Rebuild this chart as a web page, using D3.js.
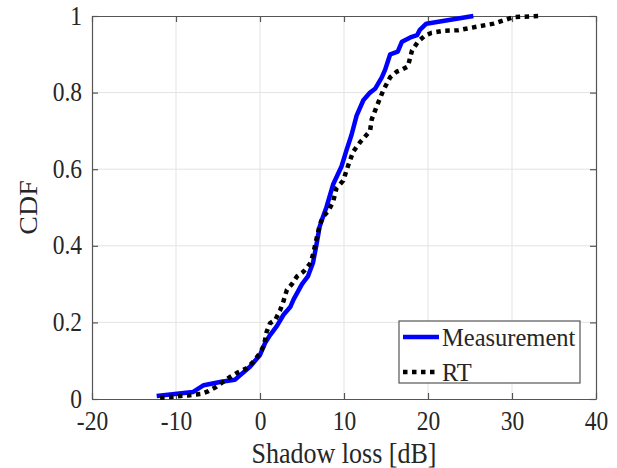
<!DOCTYPE html>
<html>
<head>
<meta charset="utf-8">
<script src="https://cdn.jsdelivr.net/npm/d3@7"></script>
<style>
  body { margin: 0; background: #fff; }
  svg { display: block; font-family: "Liberation Serif", "Times New Roman", serif; }
</style>
</head>
<body>
<svg width="617" height="468"></svg>
<script>
// measurement CDF
const measX = [-12.3, -8.0, -6.7, -4.6, -3.0, -1.2, 0, 0.6, 1.2, 2.0, 2.8, 3.6, 4.0, 5.0, 5.7, 6.3, 6.7, 7.1, 7.5, 7.9, 8.7, 9.7, 10.3, 10.9, 11.5, 12.3, 13.1, 13.7, 14.5, 14.9, 15.5, 16.4, 16.9, 17.9, 18.7, 19.0, 19.8, 25.4];
const measY = [0.008, 0.018, 0.036, 0.045, 0.05, 0.084, 0.115, 0.146, 0.167, 0.19, 0.22, 0.24, 0.26, 0.30, 0.32, 0.355, 0.40, 0.45, 0.476, 0.50, 0.56, 0.607, 0.65, 0.69, 0.74, 0.78, 0.80, 0.81, 0.84, 0.86, 0.90, 0.907, 0.933, 0.944, 0.95, 0.963, 0.98, 1.0];
// ray tracing CDF
const rtX = [-11.9, -8.3, -7.1, -6.2, -5.2, -3.6, -2.6, -1.6, -0.8, 0, 0.4, 0.6, 0.8, 1.2, 1.8, 2.4, 2.8, 3.2, 3.8, 4.4, 5.2, 6.0, 6.3, 6.7, 7.1, 7.5, 8.1, 8.7, 9.1, 9.9, 10.5, 11.1, 11.9, 13.1, 13.3, 14.0, 14.7, 15.5, 16.3, 16.9, 17.6, 18.1, 18.8, 19.6, 20.4, 21.8, 23.6, 25.8, 27.8, 29.2, 30.2, 33.2];
const rtY = [0.003, 0.01, 0.013, 0.02, 0.032, 0.057, 0.07, 0.08, 0.097, 0.12, 0.137, 0.154, 0.176, 0.198, 0.206, 0.232, 0.256, 0.285, 0.30, 0.32, 0.333, 0.355, 0.376, 0.415, 0.454, 0.476, 0.49, 0.515, 0.55, 0.57, 0.61, 0.646, 0.67, 0.70, 0.73, 0.77, 0.807, 0.84, 0.855, 0.86, 0.868, 0.91, 0.933, 0.948, 0.956, 0.961, 0.963, 0.972, 0.98, 0.99, 0.997, 1.0];

const xTicks = [-20, -10, 0, 10, 20, 30, 40];
const yTicks = [0, 0.2, 0.4, 0.6, 0.8, 1];
const legendNames = ["Measurement", "RT"];

const pl = 92, pr = 596, pt = 16, pb = 399;
const axisCol = "#555", textCol = "#262626", gridCol = "#e3e3e3";
const serif = '"Liberation Serif", "Times New Roman", serif';

const svg = d3.select("svg");
const x = d3.scaleLinear().domain([-20, 40]).range([pl, pr]);
const y = d3.scaleLinear().domain([0, 1]).range([pb, pt]);

// grid
svg.append("g").selectAll("line").data(xTicks.slice(1, -1)).join("line")
  .attr("x1", d => x(d)).attr("x2", d => x(d)).attr("y1", pt).attr("y2", pb)
  .attr("stroke", gridCol).attr("stroke-width", 1);
svg.append("g").selectAll("line").data(yTicks.slice(1, -1)).join("line")
  .attr("y1", d => y(d)).attr("y2", d => y(d)).attr("x1", pl).attr("x2", pr)
  .attr("stroke", gridCol).attr("stroke-width", 1);

function styleAxis(g) {
  g.attr("font-family", serif);
  g.selectAll(".domain").attr("stroke", axisCol).attr("stroke-width", 1.2);
  g.selectAll(".tick line").attr("stroke", axisCol).attr("stroke-width", 1.2);
  g.selectAll("text").attr("fill", textCol).attr("font-size", 23.5);
}

// axes, ticks inward
const gx = svg.append("g").attr("transform", `translate(0,${pb})`)
  .call(d3.axisBottom(x).tickValues(xTicks).tickSizeInner(-6).tickSizeOuter(0).tickFormat(d => String(d)));
styleAxis(gx);
gx.selectAll("text").attr("y", 0).attr("dy", 0).attr("transform", "translate(0,31) scale(1,1.12)");

const gy = svg.append("g").attr("transform", `translate(${pl},0)`)
  .call(d3.axisLeft(y).tickValues(yTicks).tickSizeInner(-6).tickSizeOuter(0).tickFormat(d => d === 0 || d === 1 ? d : d3.format(".1f")(d)));
styleAxis(gy);
gy.selectAll("text").attr("x", 0).attr("dy", 0).attr("transform", "translate(-10,8) scale(1,1.12)");

const gt = svg.append("g").attr("transform", `translate(0,${pt})`)
  .call(d3.axisTop(x).tickValues(xTicks).tickSizeInner(-6).tickSizeOuter(0).tickFormat(""));
styleAxis(gt);
const gr = svg.append("g").attr("transform", `translate(${pr},0)`)
  .call(d3.axisRight(y).tickValues(yTicks).tickSizeInner(-6).tickSizeOuter(0).tickFormat(""));
styleAxis(gr);

// axis labels
svg.append("text").attr("transform", `translate(${(pl + pr) / 2},463) scale(1,1.13)`)
  .attr("text-anchor", "middle").attr("font-size", 26).attr("fill", textCol)
  .text("Shadow loss [dB]");
svg.append("text").attr("transform", `translate(37,${(pt + pb) / 2}) rotate(-90) scale(1.12,1)`)
  .attr("text-anchor", "middle").attr("font-size", 25).attr("fill", textCol)
  .text("CDF");

// curves
const line = d3.line().x(d => x(d[0])).y(d => y(d[1]));
const measPts = measX.map((v, i) => [v, measY[i]]);
const rtPts = rtX.map((v, i) => [v, rtY[i]]);

svg.append("path").datum(measPts).attr("d", line)
  .attr("fill", "none").attr("stroke", "#0000ff").attr("stroke-width", 4.5)
  .attr("stroke-linejoin", "round");
svg.append("path").datum(rtPts).attr("d", line)
  .attr("fill", "none").attr("stroke", "#000").attr("stroke-width", 4.5)
  .attr("stroke-dasharray", "4.5,4.5");

// legend
const lg = svg.append("g");
lg.append("rect").attr("x", 399).attr("y", 321).attr("width", 181).attr("height", 62)
  .attr("fill", "#fff").attr("stroke", axisCol).attr("stroke-width", 1.2);
const legendStyles = [
  { stroke: "#0000ff", dash: null, y: 337 },
  { stroke: "#000", dash: "4.5,4.5", y: 372 }
];
legendNames.forEach((name, i) => {
  const s = legendStyles[i];
  lg.append("line").attr("x1", 403).attr("x2", 439).attr("y1", s.y).attr("y2", s.y)
    .attr("stroke", s.stroke).attr("stroke-width", 4.5)
    .attr("stroke-dasharray", s.dash);
  lg.append("text").attr("x", 442).attr("y", s.y + 9).attr("font-size", 24.5)
    .attr("fill", textCol).text(name);
});
</script>
</body>
</html>
